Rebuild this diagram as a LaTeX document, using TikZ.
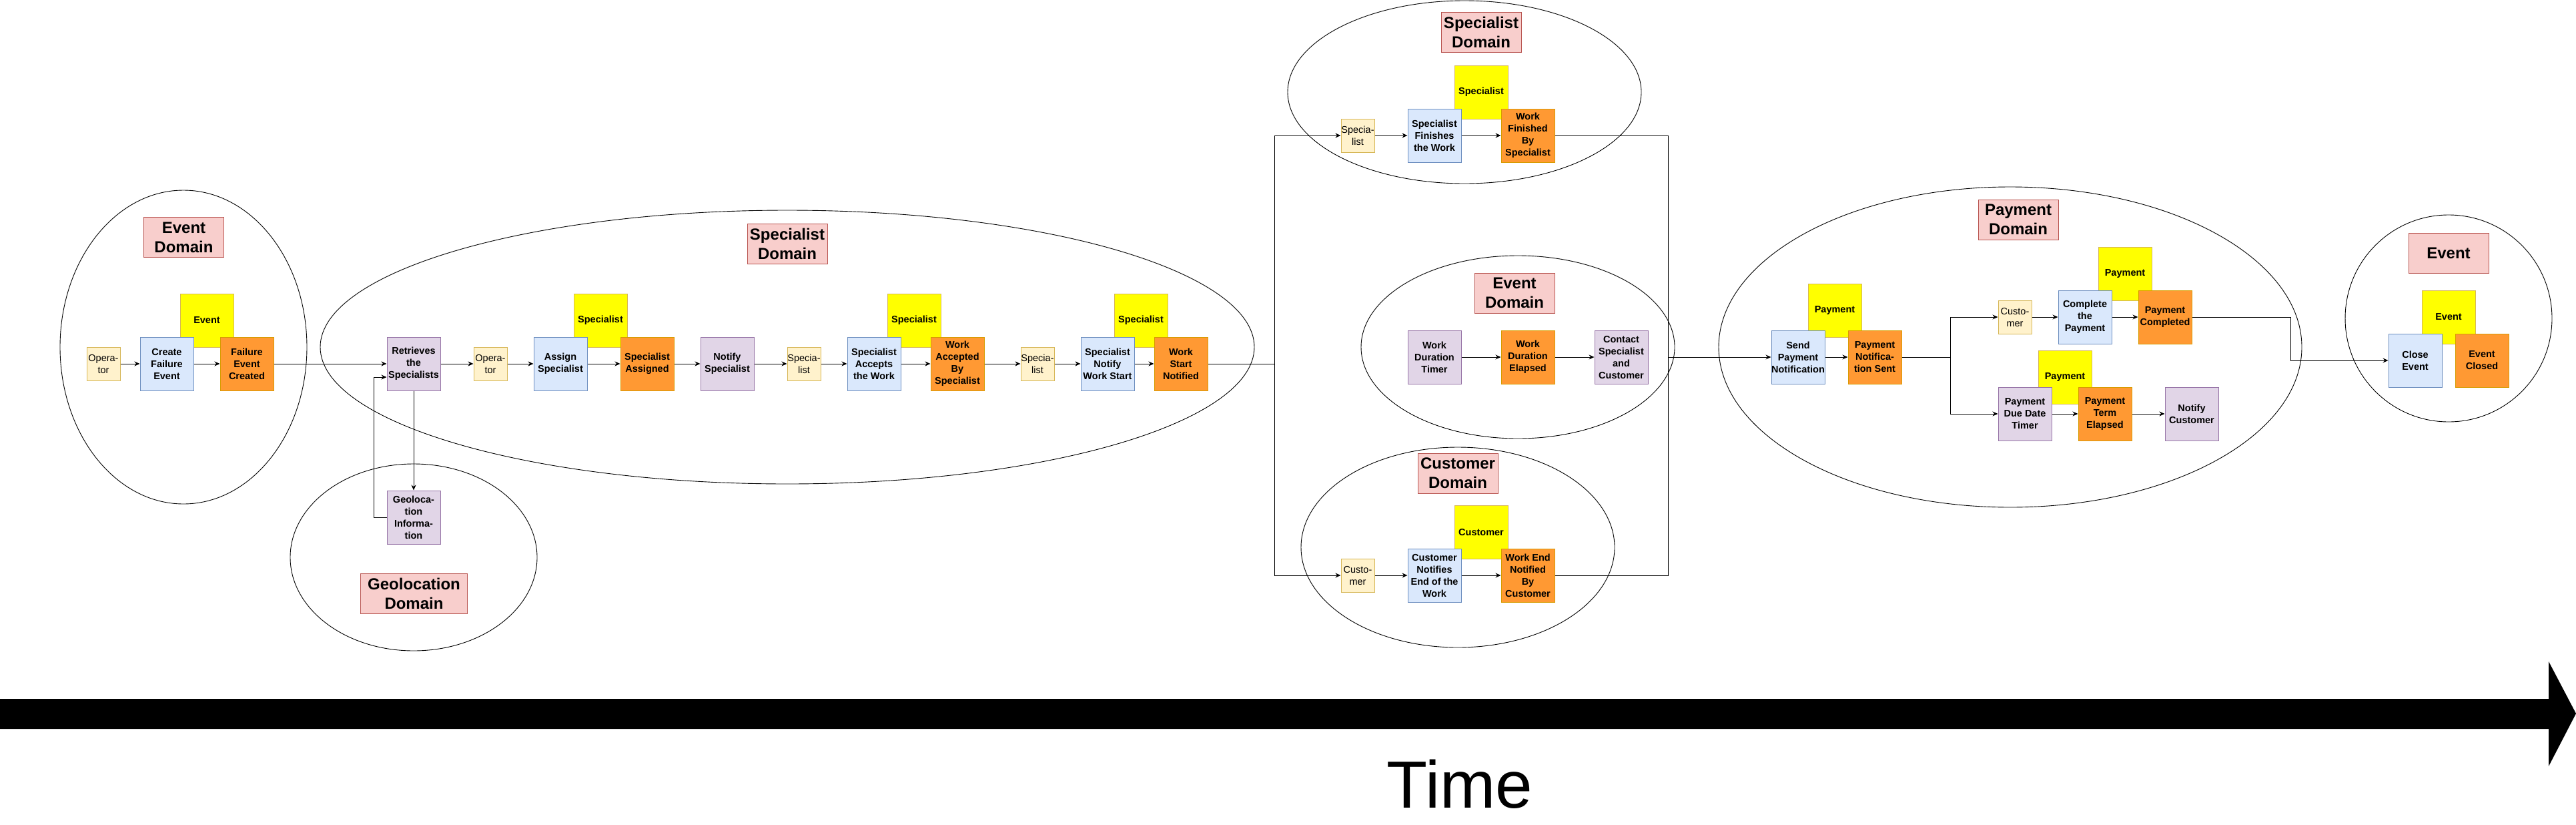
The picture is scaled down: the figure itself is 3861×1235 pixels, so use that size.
\documentclass[tikz,border=0pt]{standalone}
\usepackage{fontspec}
\setmainfont{Liberation Sans}
\usetikzlibrary{arrows.meta}

\definecolor{titlefill}{HTML}{F8CECC}
\definecolor{titleline}{HTML}{B85450}
\definecolor{cmdfill}{HTML}{DAE8FC}
\definecolor{cmdline}{HTML}{6C8EBF}
\definecolor{evtfill}{HTML}{FF9933}
\definecolor{evtline}{HTML}{D79B00}
\definecolor{aggfill}{HTML}{FFFF00}
\definecolor{aggline}{HTML}{D6B656}
\definecolor{actfill}{HTML}{FFF2CC}
\definecolor{actline}{HTML}{D6B656}
\definecolor{polfill}{HTML}{E1D5E7}
\definecolor{polline}{HTML}{9673A6}

\tikzset{
  card/.style={draw, line width=1pt, inner sep=0pt, align=center,
    minimum width=80pt, minimum height=80pt,
    font=\fontsize{14.5}{18}\selectfont\bfseries},
  cmd/.style={card, fill=cmdfill, draw=cmdline},
  evt/.style={card, fill=evtfill, draw=evtline},
  agg/.style={card, fill=aggfill, draw=aggline},
  pol/.style={card, fill=polfill, draw=polline},
  actor/.style={card, fill=actfill, draw=actline, minimum width=50pt,
    minimum height=50pt, font=\fontsize{14.5}{18}\selectfont},
  domtitle/.style={draw=titleline, fill=titlefill, line width=1pt, inner sep=0pt,
    align=center, minimum width=120pt, minimum height=60pt,
    font=\fontsize{24}{29}\selectfont\bfseries},
  bubble/.style={draw, line width=0.9pt},
  wire/.style={line width=1pt},
  flow/.style={wire, -{Stealth[length=8pt,width=7pt]}},
}

\begin{document}
\begin{tikzpicture}[x=1pt, y=-1pt]

  \useasboundingbox (0,0) rectangle (3861,1235);

  % domains
  \draw[bubble] (275,520) ellipse [x radius=185pt, y radius=235pt];
  \draw[bubble] (1180,520) ellipse [x radius=700pt, y radius=205pt];
  \draw[bubble] (620,835) ellipse [x radius=185pt, y radius=140pt];
  \draw[bubble] (2195,138) ellipse [x radius=265pt, y radius=137pt];
  \draw[bubble] (2275,520) ellipse [x radius=235pt, y radius=137pt];
  \draw[bubble] (2185,820) ellipse [x radius=235pt, y radius=150pt];
  \draw[bubble] (3013,520) ellipse [x radius=437pt, y radius=240pt];
  \draw[bubble] (3670,477) ellipse [x radius=155pt, y radius=155pt];

  % event domain
  \node[domtitle] (evdom) at (275.5,355.5) {Event\\Domain};
  \node[agg] (evagg) at (310,480) {Event};
  \node[actor] (oper) at (155,545) {Opera-\\tor};
  \node[cmd] (create) at (250,545) {Create\\Failure\\Event};
  \node[evt] (failed) at (370,545) {Failure\\Event\\Created};

  % specialist domain
  \node[domtitle] (spdom) at (1180,365) {Specialist\\Domain};
  \node[pol] (retrieve) at (620,545) {Retrieves\\the\\Specialists};
  \node[actor] (operb) at (735,545) {Opera-\\tor};
  \node[agg] (spagg) at (900,480) {Specialist};
  \node[cmd] (assign) at (840,545) {Assign\\Specialist};
  \node[evt] (assigned) at (970,545) {Specialist\\Assigned};
  \node[pol] (notify) at (1090,545) {Notify\\Specialist};
  \node[actor] (spec) at (1205,545) {Specia-\\list};
  \node[agg] (spaggb) at (1370,480) {Specialist};
  \node[cmd] (accept) at (1310,545) {Specialist\\Accepts\\the Work};
  \node[evt] (accepted) at (1435,545) {Work\\Accepted\\By\\Specialist};
  \node[actor] (specb) at (1555,545) {Specia-\\list};
  \node[agg] (spaggc) at (1710,480) {Specialist};
  \node[cmd] (start) at (1660,545) {Specialist\\Notify\\Work Start};
  \node[evt] (started) at (1770,545) {Work\\Start\\Notified};

  % geolocation domain
  \node[pol] (geo) at (620,775) {Geoloca-\\tion\\Informa-\\tion};
  \node[domtitle, minimum width=160pt] (geodom) at (620.5,889) {Geolocation\\Domain};

  % specialist domain, end of work
  \node[domtitle] (spdomb) at (2220,48) {Specialist\\Domain};
  \node[agg] (spaggd) at (2220,138) {Specialist};
  \node[actor] (specc) at (2035,203) {Specia-\\list};
  \node[cmd] (finish) at (2150,203) {Specialist\\Finishes\\the Work};
  \node[evt] (finished) at (2290,203) {Work\\Finished\\By\\Specialist};

  % event domain, timer
  \node[domtitle] (evdomb) at (2270,439) {Event\\Domain};
  \node[pol] (timer) at (2150,535) {Work\\Duration\\Timer};
  \node[evt] (elapsed) at (2290,535) {Work\\Duration\\Elapsed};
  \node[pol] (contact) at (2430,535) {Contact\\Specialist\\and\\Customer};

  % customer domain
  \node[domtitle] (cudom) at (2185,709) {Customer\\Domain};
  \node[agg] (cuagg) at (2220,797) {Customer};
  \node[actor] (cust) at (2035,862) {Custo-\\mer};
  \node[cmd] (endwork) at (2150,862) {Customer\\Notifies\\End of the\\Work};
  \node[evt] (ended) at (2290,862) {Work End\\Notified\\By\\Customer};

  % payment domain
  \node[domtitle] (paydom) at (3025,329) {Payment\\Domain};
  \node[agg] (payagg) at (2750,465) {Payment};
  \node[cmd] (send) at (2695,535) {Send\\Payment\\Notification};
  \node[evt] (sent) at (2810,535) {Payment\\Notifica-\\tion Sent};
  \node[actor] (custb) at (3020,475) {Custo-\\mer};
  \node[agg] (payaggb) at (3185,410) {Payment};
  \node[cmd] (pay) at (3125,475) {Complete\\the\\Payment};
  \node[evt] (paid) at (3245,475) {Payment\\Completed};
  \node[agg] (payaggc) at (3095,565) {Payment};
  \node[pol] (due) at (3035,620) {Payment\\Due Date\\Timer};
  \node[evt] (overdue) at (3155,620) {Payment\\Term\\Elapsed};
  \node[pol] (remind) at (3285,620) {Notify\\Customer};

  % closing
  \node[domtitle] (closedom) at (3670,379) {Event};
  \node[agg] (evaggb) at (3670,475) {Event};
  \node[cmd] (close) at (3620,540) {Close\\Event};
  \node[evt] (closed) at (3720,540) {Event\\Closed};

  \coordinate (geoturn) at (560,565);
  \coordinate (forka) at (1910,545);
  \coordinate (joina) at (2500,535);
  \coordinate (forkb) at (2923,535);
  \coordinate (bend) at (3433,540);

  \draw[flow] (oper) -- (create);
  \draw[flow] (create) -- (failed);
  \draw[flow] (failed) -- (retrieve);
  \draw[flow] (retrieve) -- (geo); %% ask geolocation
  \draw[flow] (geo.west) -| (geoturn) -- (geoturn -| retrieve.west); %% back
  \draw[flow] (retrieve) -- (operb);
  \draw[flow] (operb) -- (assign);
  \draw[flow] (assign) -- (assigned);
  \draw[flow] (assigned) -- (notify);
  \draw[flow] (notify) -- (spec);
  \draw[flow] (spec) -- (accept);
  \draw[flow] (accept) -- (accepted);
  \draw[flow] (accepted) -- (specb);
  \draw[flow] (specb) -- (start);
  \draw[flow] (start) -- (started);

  \draw[wire] (started) -- (forka);
  \draw[flow] (forka) |- (specc); %% to end of work
  \draw[flow] (forka) |- (cust);  %% to customer
  \draw[flow] (specc) -- (finish);
  \draw[flow] (finish) -- (finished);
  \draw[flow] (cust) -- (endwork);
  \draw[flow] (endwork) -- (ended);
  \draw[flow] (timer) -- (elapsed);
  \draw[flow] (elapsed) -- (contact);

  \draw[wire] (finished) -| (joina);
  \draw[wire] (ended) -| (joina);
  \draw[flow] (joina) -- (send);
  \draw[flow] (send) -- (sent);
  \draw[wire] (sent) -- (forkb);
  \draw[flow] (forkb) |- (custb);
  \draw[flow] (forkb) |- (due);
  \draw[flow] (custb) -- (pay);
  \draw[flow] (pay) -- (paid);
  \draw[flow] (due) -- (overdue);
  \draw[flow] (overdue) -- (remind);
  \draw[flow] (paid) -| (bend) -- (close);

  % time line
  \fill (0,1047) -- (3820,1047) -- (3820,991) -- (3861,1069) -- (3820,1148)
    -- (3820,1092) -- (0,1092) -- cycle;
  \node[font=\fontsize{100}{120}\selectfont, anchor=base, inner sep=0pt] (time) at (2188,1210) {Time};

\end{tikzpicture}
\end{document}
